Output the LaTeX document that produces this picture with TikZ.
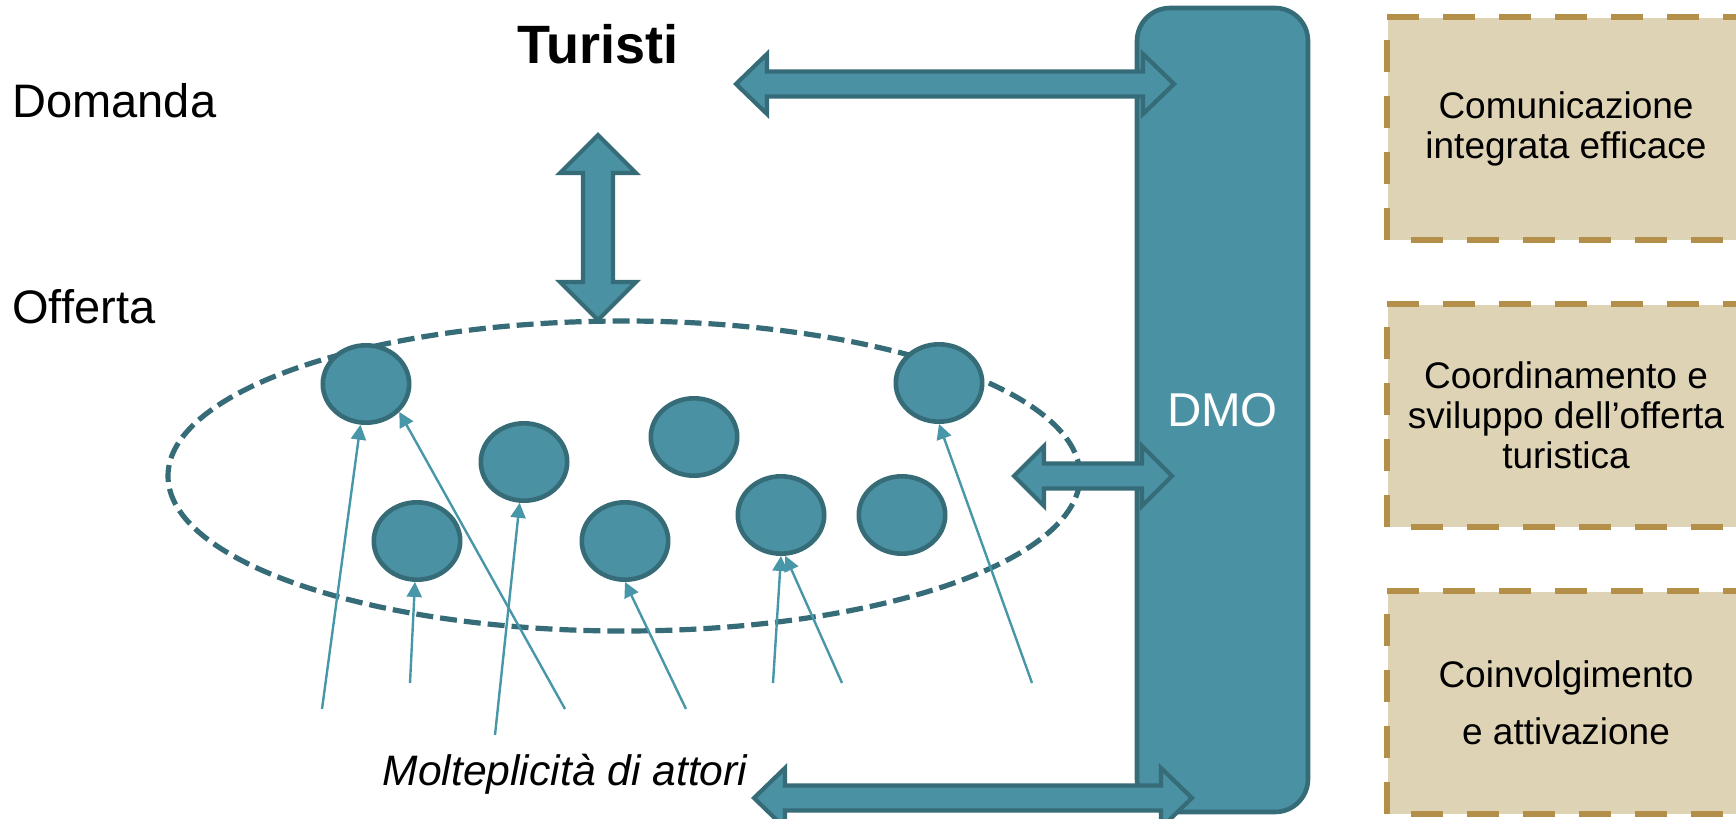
\documentclass[tikz,border=0pt]{standalone}
\usepackage{fontspec}
\setmainfont{Liberation Sans}
\usetikzlibrary{calc,shapes.geometric,arrows.meta}

\definecolor{tealfill}{HTML}{4A91A3}
\definecolor{tealline}{HTML}{366C78}
\definecolor{tealthin}{HTML}{4897A9}
\definecolor{sandfill}{HTML}{DFD3B5}
\definecolor{sandline}{HTML}{B38F4A}

% Two-headed block arrow between two named points:
% #1 start, #2 end, #3 half shaft width, #4 half head width, #5 head length
\newcommand\blockarrow[5]{%
  \path[blockarr]
    (#1)
    -- ($(#1)!#5!(#2)!#4!90:(#2)$)
    -- ($(#1)!#5!(#2)!#3!90:(#2)$)
    -- ($(#2)!#5!(#1)!#3!-90:(#1)$)
    -- ($(#2)!#5!(#1)!#4!-90:(#1)$)
    -- (#2)
    -- ($(#2)!#5!(#1)!#4!90:(#1)$)
    -- ($(#2)!#5!(#1)!#3!90:(#1)$)
    -- ($(#1)!#5!(#2)!#3!-90:(#2)$)
    -- ($(#1)!#5!(#2)!#4!-90:(#2)$)
    -- cycle;}

\begin{document}
\begin{tikzpicture}[x=0.5pt,y=-0.5pt,
  actor/.style={ellipse, draw=tealline, fill=tealfill, line width=2.3pt,
    minimum width=43.2pt, minimum height=38.7pt, inner sep=0pt},
  feed/.style={draw=tealthin, line width=1.2pt,
    -{Triangle[length=7.5pt,width=7.5pt]}},
  blockarr/.style={draw=tealline, fill=tealfill, line width=2.1pt, line join=miter},
  rolebox/.style={fill=sandfill, minimum width=178.5pt, minimum height=111pt,
    inner sep=0pt, align=center, font=\fontsize{18.5pt}{20pt}\selectfont},
  boxedge/.style={draw=sandline, line width=2.8pt, dash pattern=on 16pt off 12pt},
  side/.style={anchor=base west, inner sep=0pt, font=\fontsize{23.5pt}{28pt}\selectfont}
]
\clip (0,0) rectangle (1736,819);

% the offer system: dashed ellipse with its actors
\node[ellipse, draw=tealline, line width=2.6pt, dash pattern=on 8.5pt off 3.5pt,
  minimum width=456pt, minimum height=155pt, inner sep=0pt] (sys) at (624,476) {};

\node[actor] (c1) at (366,384) {};
\node[actor] (c2) at (524,462) {};
\node[actor] (c3) at (694,437) {};
\node[actor] (c4) at (417,541) {};
\node[actor] (c5) at (625,541) {};
\node[actor] (c6) at (781,515) {};
\node[actor] (c7) at (939,383) {};
\node[actor] (c8) at (902,515) {};

% incoming lines towards the actors
\coordinate (s1) at (322,709);
\coordinate (s2) at (565,709);
\coordinate (s3) at (410,683);
\coordinate (s4) at (495,735);
\coordinate (s5) at (686,709);
\coordinate (s6) at (773,683);
\coordinate (s7) at (842,683);
\coordinate (s8) at (1032,683);
\draw[feed] (s1) -- (c1);
\draw[feed] (s2) -- (c1.-40);
\draw[feed] (s3) -- (c4);
\draw[feed] (s4) -- (c2);
\draw[feed] (s5) -- (c5.south);
\draw[feed] (s6) -- (c6.south);
\draw[feed] (s7) -- (c6.-84);
\draw[feed] (s8) -- (c7.south);

% DMO column
\node[draw=tealline, fill=tealfill, line width=2.3pt, rounded corners=16.5pt,
  minimum width=85.5pt, minimum height=402pt, inner sep=0pt, text=white,
  font=\fontsize{23.75pt}{28pt}\selectfont] (dmo) at (1222.5,410) {DMO};

% block arrows
\coordinate (tA) at (736,84);
\coordinate (tB) at (1174,84);
\coordinate (vA) at (598,135);
\coordinate (vB) at (598,320);
\coordinate (mA) at (1014,476);
\coordinate (mB) at (1172,476);
\coordinate (bA) at (754,798);
\coordinate (bB) at (1192,798);
\blockarrow{tA}{tB}{6.25pt}{15pt}{15.5pt}
\blockarrow{vA}{vB}{7.5pt}{19pt}{19pt}
\blockarrow{mA}{mB}{6.25pt}{15pt}{15pt}
\blockarrow{bA}{bB}{6.25pt}{15pt}{15.5pt}

% labels
\node[inner sep=0pt, font=\fontsize{27pt}{30pt}\selectfont\bfseries] (tur) at (598,44) {Turisti};
\node[side] (dom) at (12,117) {Domanda};
\node[side] (off) at (12,323) {Offerta};
\node[anchor=base, inner sep=0pt, font=\fontsize{21.3pt}{25pt}\selectfont\itshape]
  (molt) at (565,785) {Molteplicità di attori};

% DMO functions
\node[rolebox] (r1) at (1566,128.5) {Comunicazione\\integrata efficace};
\node[rolebox] (r2) at (1566,415.5) {Coordinamento e\\sviluppo dell’offerta\\turistica};
\node[rolebox, font=\fontsize{18.5pt}{28.5pt}\selectfont] (r3) at (1566,702.5) {Coinvolgimento\\e attivazione};
\foreach \r in {r1,r2,r3}{
  \draw[boxedge] (\r.north west) -- (\r.north east);
  \draw[boxedge, dash phase=16pt] (\r.south west) -- (\r.south east);
  \draw[boxedge] (\r.south west) -- (\r.north west);
}
\end{tikzpicture}
\end{document}
